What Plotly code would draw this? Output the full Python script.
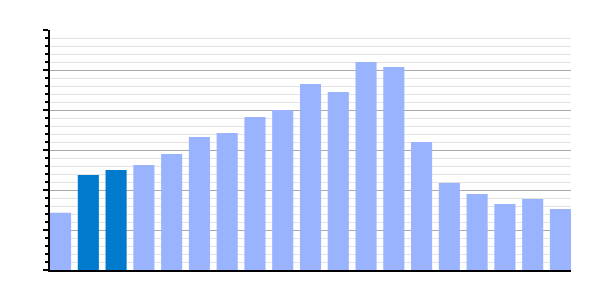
import plotly.graph_objects as go

categories = list(range(19))
values = [14.3, 23.75, 25.0, 26.25, 29.0, 33.25, 34.25, 38.25, 40.0, 46.5,
          44.5, 52.0, 50.75, 32.0, 21.75, 19.0, 16.5, 17.75, 15.25]
highlight = [False, True, True] + [False] * 16

major_ticks = [0, 10, 20, 30, 40, 50, 60]
minor_ticks = [v for v in range(0, 61, 2) if v % 10 != 0]

light = "#99b3ff"
dark = "#007acc"
colors = [dark if h else light for h in highlight]

bar_frac = 0.76

fig = go.Figure(go.Bar(
    x=categories, y=values, marker=dict(color=colors, line=dict(width=0)),
    width=bar_frac,
))

fig.update_layout(
    width=600, height=300,
    margin=dict(l=50, r=29, t=30, b=30),
    paper_bgcolor="white", plot_bgcolor="white",
    showlegend=False,
    xaxis=dict(
        range=[-bar_frac / 2, len(categories) - 1 + bar_frac / 2],
        showgrid=False, zeroline=False, showticklabels=False, ticks="",
        showline=True, linecolor="black", linewidth=2,
    ),
    yaxis=dict(
        range=[0, 60], tickmode="array", tickvals=major_ticks,
        showgrid=True, gridcolor="#aaaaaa", gridwidth=1,
        zeroline=False, showticklabels=False,
        ticks="outside", ticklen=5, tickwidth=2, tickcolor="black",
        showline=True, linecolor="black", linewidth=2,
        minor=dict(tickmode="array", tickvals=minor_ticks,
                   showgrid=True, gridcolor="#e3e3e3", gridwidth=1,
                   ticks="outside", ticklen=3, tickwidth=2, tickcolor="black"),
    ),
)

fig.write_html("out.html")
